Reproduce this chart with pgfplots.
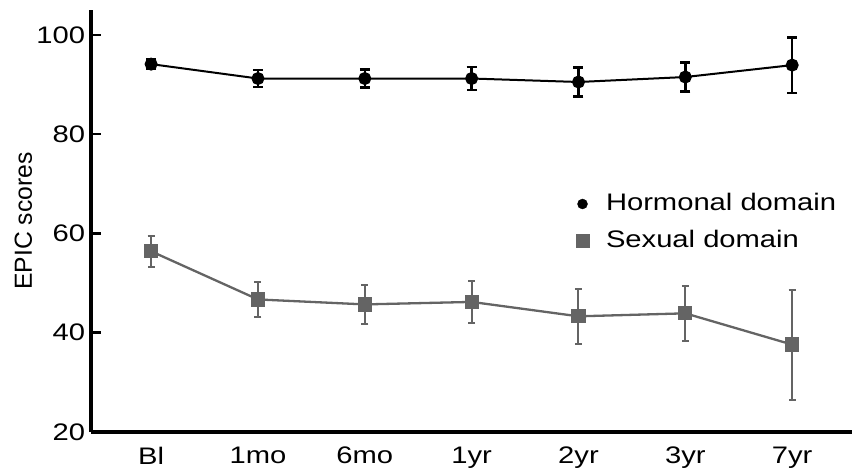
\documentclass[border=0pt]{standalone}
\usepackage{fontspec}
\setmainfont{Liberation Sans}[FakeStretch=1.22]
\newfontfamily\ylabfont{Liberation Sans}
\usepackage{pgfplots}
\usepackage{pgfplotstable}
\pgfplotsset{compat=1.18}

\definecolor{sexgray}{HTML}{646464}

% time point, hormonal mean, error, sexual mean, error
\pgfplotstableread{
x  h     he    s     se
0  94.1  1.0   56.4  3.1
1  91.2  1.7   46.7  3.5
2  91.2  1.8   45.7  3.95
3  91.2  2.35  46.2  4.3
4  90.5  2.9   43.3  5.5
5  91.5  2.95  43.9  5.6
6  93.9  5.6   37.6  11.1
}\epicdata

\begin{document}
\fontsize{24}{28}\selectfont
\begin{tikzpicture}
\begin{axis}[
  at={(0,0)}, anchor=south west,
  scale only axis,
  width=760.7bp, height=422bp,
  xmin=-0.56, xmax=6.56,
  ymin=20, ymax=105,
  clip=false,
  axis lines*=left,
  axis line style={line width=4bp, black},
  xtick=data,
  xticklabels={Bl,1mo,6mo,1yr,2yr,3yr,7yr},
  xtick style={draw=none},
  ytick={20,40,60,80,100},
  tick align=inside,
  major tick length=10bp,
  ytick style={line width=2.5bp, black},
  /pgf/number format/assume math mode=true,
  tick label style={font=\fontsize{24}{28}\selectfont},
  xticklabel style={yshift=-7bp},
  yticklabel style={xshift=2bp},
  ylabel={EPIC scores},
  ylabel style={at={(axis description cs:-0.0894,0.5)}, anchor=center,
    font=\ylabfont\fontsize{24.8}{28}\selectfont},
  legend style={draw=none, fill=none, at={(0.633,0.575)}, anchor=north west,
    font=\fontsize{24}{28}\selectfont, row sep=12bp,
    /tikz/every odd column/.append style={column sep=15bp}},
  legend cell align=left,
]
\addlegendimage{only marks, mark=*, black, mark size=5bp}
\addlegendentry{Hormonal domain}
\addlegendimage{only marks, mark=square*, sexgray, mark size=6.5bp}
\addlegendentry{Sexual domain}

\addplot[forget plot, sexgray, line width=2.3bp, mark=square*, mark size=6bp,
  mark options={solid},
  error bars/.cd, y dir=both, y explicit,
  error bar style={line width=2bp, sexgray},
  error mark options={rotate=90, mark size=3.5bp, line width=2bp, sexgray}]
  table[x=x, y=s, y error=se] {\epicdata};

\addplot[forget plot, black, line width=2bp, mark=*, mark size=5.5bp,
  error bars/.cd, y dir=both, y explicit,
  error bar style={line width=2.5bp, black},
  error mark options={rotate=90, mark size=5bp, line width=2.5bp, black}]
  table[x=x, y=h, y error=he] {\epicdata};
\end{axis}
\pgfresetboundingbox
\path (-91.3bp,-37bp) rectangle (761.7bp,432bp);
\end{tikzpicture}
\end{document}
